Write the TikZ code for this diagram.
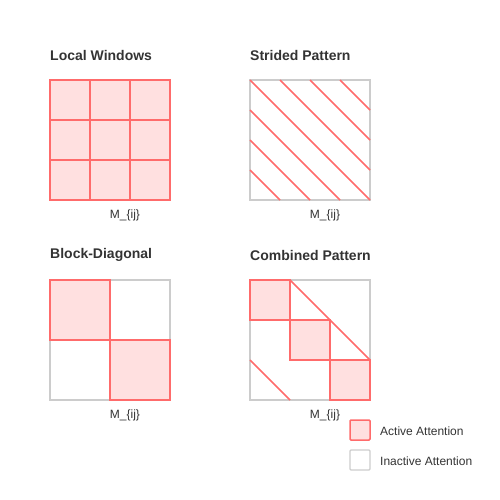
\documentclass[tikz,border=0pt]{standalone}
\usepackage{fontspec}
\setmainfont{Liberation Sans}
\usetikzlibrary{arrows}

\definecolor{actred}{HTML}{FF6B6B}
\definecolor{actfill}{HTML}{FFE0E0}
\definecolor{offgray}{HTML}{CCCCCC}
\definecolor{txtgray}{HTML}{333333}

\begin{document}
\begin{tikzpicture}[x=1pt,y=-1pt, title node/.style={anchor=west,font=\bfseries\fontsize{14}{16}\selectfont,text=txtgray, inner sep=0pt}, label node/.style={font=\fontsize{12}{14}\selectfont,text=txtgray, inner sep=0pt}, active/.style={draw=actred,fill=actfill,line width=1.5pt}, inactive/.style={draw=offgray,line width=1.2pt}, stripe/.style={draw=actred,line width=1.5pt}]

  \useasboundingbox (0,0) rectangle (500,500);

  % local windows
  \node[title node] (T1) at (50,55) {Local Windows};
  \foreach \i in {0,1,2}
    \foreach \j in {0,1,2}
      \draw[active] (50+40*\i,80+40*\j) rectangle +(40,40);
  \node[label node] (L1) at (125,215) {M\_\{ij\}};

  % strided pattern
  \node[title node] (T2) at (250,55) {Strided Pattern};
  \draw[inactive] (250,80) rectangle (370,200);
  \draw[stripe] (250,80) -- (370,200);
  \draw[stripe] (280,80) -- (370,170);
  \draw[stripe] (310,80) -- (370,140);
  \draw[stripe] (340,80) -- (370,110);
  \draw[stripe] (250,110) -- (340,200);
  \draw[stripe] (250,140) -- (310,200);
  \draw[stripe] (250,170) -- (280,200);
  \node[label node] (L2) at (325,215) {M\_\{ij\}};

  % block-diagonal
  \node[title node] (T3) at (50,255) {Block-Diagonal};
  \draw[inactive] (50,280) rectangle (170,400);
  \draw[active] (50,280) rectangle (110,340);
  \draw[active] (110,340) rectangle (170,400);
  \node[label node] (L3) at (125,415) {M\_\{ij\}};

  % combined
  \node[title node] (T4) at (250,255) {Combined Pattern};
  \draw[inactive] (250,280) rectangle (370,400);
  \draw[stripe] (290,280) -- (370,360);
  \draw[stripe] (250,360) -- (290,400);
  \draw[active] (250,280) rectangle (290,320);
  \draw[active] (290,320) rectangle (330,360);
  \draw[active] (330,360) rectangle (370,400);
  \node[label node] (L4) at (325,415) {M\_\{ij\}};

  % legend
  \draw[active,rounded corners=1pt] (350,420) rectangle (370,440);
  \node[label node,anchor=west] (A) at (380,431) {Active Attention};
  \draw[inactive,rounded corners=1pt] (350,450) rectangle (370,470);
  \node[label node,anchor=west] (I) at (380,461) {Inactive Attention};
\end{tikzpicture}
\end{document}
